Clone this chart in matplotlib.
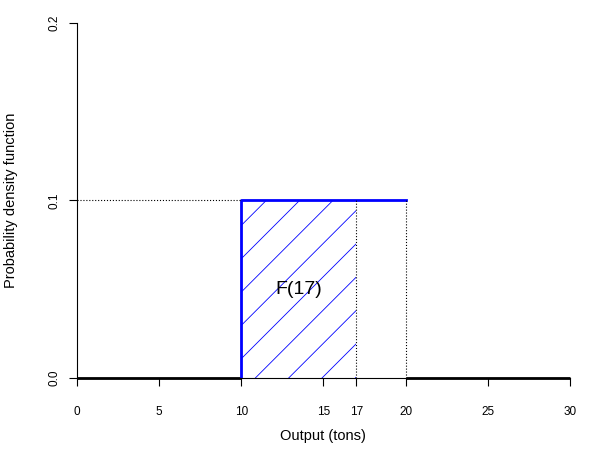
import matplotlib
matplotlib.use("Agg")
import matplotlib.pyplot as plt

a, b = 10, 20
x_eval = 17
dens = 0.1
xticks = [0, 5, 10, 15, 17, 20, 25, 30]
yticks = [0.0, 0.1, 0.2]

plt.rcParams['font.family'] = ['Liberation Sans', 'DejaVu Sans']
plt.rcParams['hatch.linewidth'] = 0.6
fig = plt.figure(figsize=(6, 4.5), dpi=100)
ax = fig.add_axes([0.128, 0.16, 0.822, 0.789])
ax.set_xlim(0, 30)
ax.set_ylim(0, 0.2)

ax.fill_between([a, x_eval], 0, dens, facecolor='none', edgecolor='blue', hatch='/', linewidth=0)
ax.plot([0, a], [0, 0], color='black', lw=2, solid_capstyle='butt', clip_on=False)
ax.plot([b, 30], [0, 0], color='black', lw=2, solid_capstyle='butt', clip_on=False)
ax.plot([a, a, b], [0, dens, dens], color='blue', lw=2)
ax.plot([0, a], [dens, dens], color='black', lw=0.8, ls=':')
ax.plot([x_eval, x_eval], [0, dens], color='black', lw=0.8, ls=':')
ax.plot([b, b], [0, dens], color='black', lw=0.8, ls=':')
ax.text(13.5, 0.05, 'F(17)', fontsize=14, ha='center', va='center')

for s in ['top', 'right']:
    ax.spines[s].set_visible(False)
ax.set_xticks(xticks)
ax.set_xticklabels([str(t) for t in xticks], fontsize=8.5)
ax.set_yticks(yticks)
ax.set_yticklabels([f'{t:.1f}' for t in yticks], fontsize=8.5, rotation=90, va='center')
ax.tick_params(length=6, pad=14)
ax.tick_params(axis='y', pad=6)
ax.set_xlabel('Output (tons)', fontsize=10.5, labelpad=8)
ax.set_ylabel('Probability density function', fontsize=10.5, labelpad=22)
fig.savefig('out.png')
